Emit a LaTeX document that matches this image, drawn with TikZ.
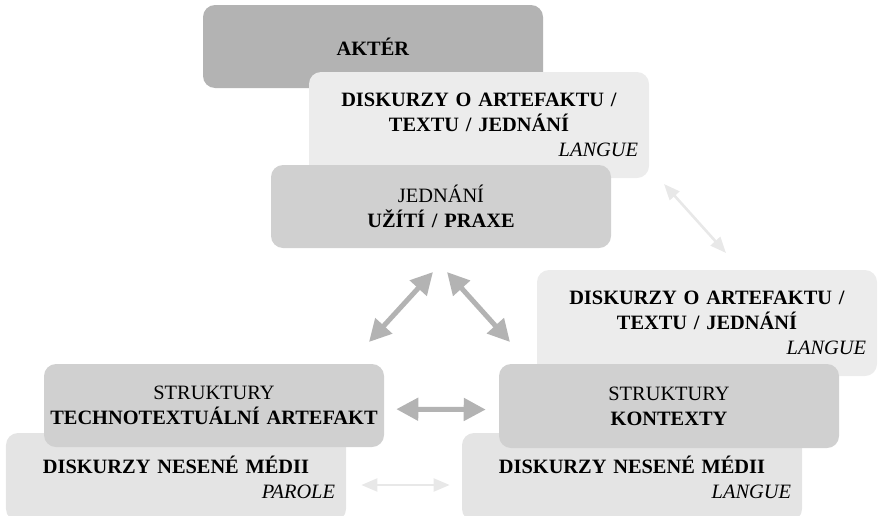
\documentclass[tikz,border=0pt]{standalone}
\usepackage{fontspec}
\setmainfont{Liberation Serif}
\usepackage{tikz}
\usetikzlibrary{arrows.meta}
\definecolor{grayA}{HTML}{B3B3B3}
\definecolor{grayM}{HTML}{D0D0D0}
\definecolor{grayL}{HTML}{ECECEC}
\definecolor{grayP}{HTML}{E4E4E4}
\definecolor{grayT}{HTML}{E8E8E8}

\begin{document}
\begin{tikzpicture}[
		box/.style={rounded corners=0.3cm, minimum width=8.5cm, text width=8.4cm, inner xsep=0.05cm, inner ysep=0pt, align=center, font=\fontsize{14.5}{18}\selectfont},
		bigarrow/.style={draw=grayA, line width=0.125cm, {Triangle[length=0.55cm,width=0.55cm]}-{Triangle[length=0.55cm,width=0.55cm]}},
		smallarrow/.style={draw=grayT, line width=0.065cm, {Triangle[length=0.4cm,width=0.32cm]}-{Triangle[length=0.4cm,width=0.32cm]}}]
			\useasboundingbox (0,0) rectangle (21.95,-12.875);
			\clip (0,0) rectangle (21.95,-12.875);

			% top group
			\node[box, fill=grayA, minimum height=2.075cm] (akter) at (9.325,-1.1625) {\textbf{AKTÉR}};
			\node[box, fill=grayL, minimum height=2.65cm] (disk1) at (11.975,-3.125) {\textbf{DISKURZY O ARTEFAKTU /}\\\textbf{TEXTU / JEDNÁNÍ}\\\hspace*{\fill}\mbox{\textit{LANGUE}\hspace{0.225cm}}};
			\node[box, fill=grayM, minimum height=2.075cm] (jednani) at (11.025,-5.1625) {JEDNÁNÍ\\\textbf{UŽÍTÍ / PRAXE}};

			% right group
			\node[box, fill=grayL, minimum height=2.65cm] (disk2) at (17.675,-8.075) {\textbf{DISKURZY O ARTEFAKTU /}\\\textbf{TEXTU / JEDNÁNÍ}\\\hspace*{\fill}\mbox{\textit{LANGUE}\hspace{0.225cm}}};
			\node[box, fill=grayP, minimum height=2.2cm] (nes2) at (15.8,-11.925) {\textbf{DISKURZY NESENÉ MÉDII}\\\hspace*{\fill}\mbox{\textit{LANGUE}\hspace{0.225cm}}};
			\node[box, fill=grayM, minimum height=2.1cm] (kontexty) at (16.725,-10.15) {STRUKTURY\\\textbf{KONTEXTY}};

			% left group
			\node[box, fill=grayP, minimum height=2.2cm] (nes1) at (4.4,-11.925) {\textbf{DISKURZY NESENÉ MÉDII}\\\hspace*{\fill}\mbox{\textit{PAROLE}\hspace{0.225cm}}};
			\node[box, fill=grayM, minimum height=2.075cm] (techno) at (5.35,-10.1375) {STRUKTURY\\\textbf{TECHNOTEXTUÁLNÍ ARTEFAKT}};

			% arrows
			\coordinate (a1) at (16.6,-4.6);
			\coordinate (a2) at (18.15,-6.325);
			\coordinate (b1) at (10.825,-6.8);
			\coordinate (b2) at (9.225,-8.55);
			\coordinate (c1) at (11.175,-6.8);
			\coordinate (c2) at (12.75,-8.55);

			\draw[smallarrow] (a1) -- (a2);
			\draw[bigarrow] (b1) -- (b2);
			\draw[bigarrow] (c1) -- (c2);
			\draw[bigarrow, shorten <=0.3cm, shorten >=0.325cm] ([yshift=-0.09cm]techno.east) -- ([yshift=-0.09cm]kontexty.west);
			\draw[smallarrow, shorten <=0.375cm, shorten >=0.3cm] ([yshift=-0.2cm]nes1.east) -- ([yshift=-0.2cm]nes2.west);
		\end{tikzpicture}
\end{document}
